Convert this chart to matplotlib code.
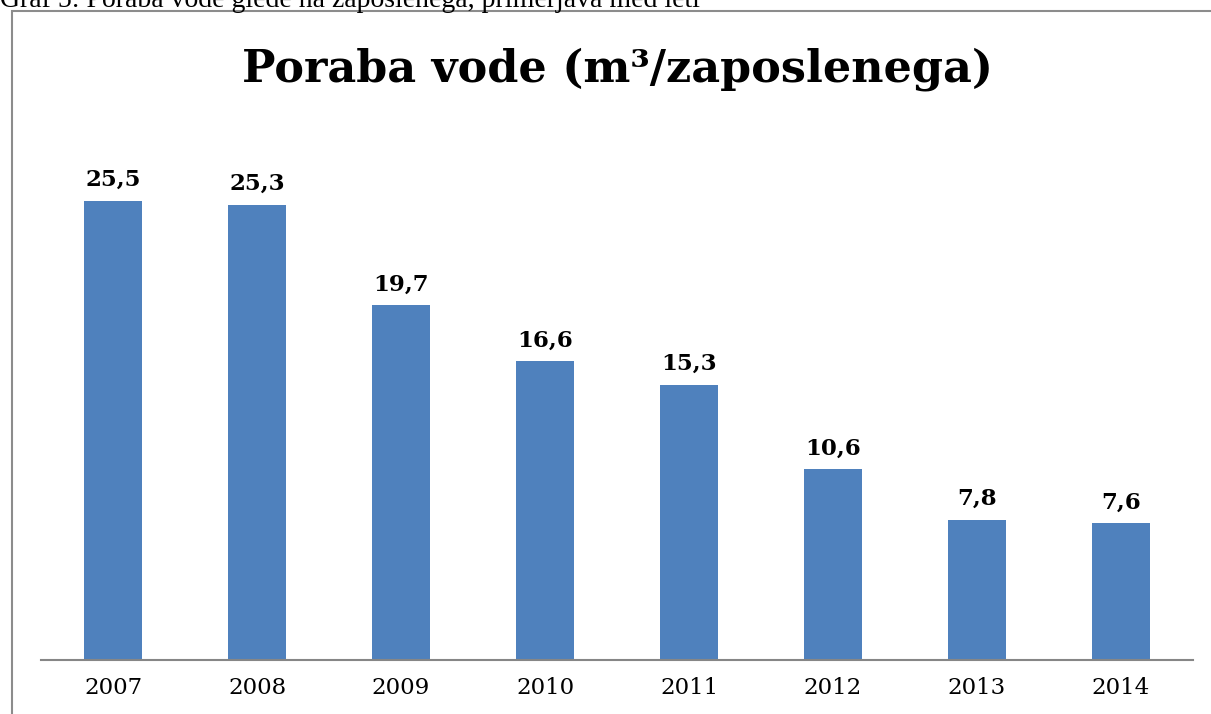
import matplotlib
matplotlib.use('Agg')
import matplotlib.pyplot as plt
from matplotlib.patches import Rectangle

# data
years = ['2007', '2008', '2009', '2010', '2011', '2012', '2013', '2014']
poraba = [25.5, 25.3, 19.7, 16.6, 15.3, 10.6, 7.8, 7.6]
labels = ['25,5', '25,3', '19,7', '16,6', '15,3', '10,6', '7,8', '7,6']

W, H = 1211, 714
fig = plt.figure(figsize=(W / 100, H / 100), dpi=100)

# caption above the chart (cut off at the top in the original)
fig.text(0 / W, 1 - 7 / H, 'Graf 5: Poraba vode glede na zaposlenega, primerjava med leti',
         fontsize=20, family='Liberation Serif', va='baseline', ha='left')

# chart frame
fig.patches.append(Rectangle((12 / W, -0.1), 1.2, 1 - 11 / H + 0.1,
                             transform=fig.transFigure, fill=False,
                             edgecolor='#8c8c8c', linewidth=1.5))

# plot area: baseline at y=660px, 18 px per unit
ax = fig.add_axes([41 / W, 1 - 660 / H, 1152 / W, 540 / H])
x = range(len(years))
bars = ax.bar(x, poraba, width=0.4, color='#4F81BD')
ax.set_xlim(-0.5, len(years) - 0.5)
ax.set_ylim(0, 30)

for i, v in enumerate(poraba):
    ax.text(i, v + 0.55, labels[i], ha='center', va='bottom',
            fontsize=16.5, fontweight='bold', family='DejaVu Serif')

ax.set_xticks(list(x))
ax.set_xticklabels(years, fontsize=16.5, family='DejaVu Serif')
ax.tick_params(axis='x', length=0, pad=12)
ax.set_yticks([])
for s in ['top', 'right', 'left']:
    ax.spines[s].set_visible(False)
ax.spines['bottom'].set_color('#868686')
ax.spines['bottom'].set_linewidth(1.5)

fig.text(617 / W, 1 - 69 / H, 'Poraba vode (m³/zaposlenega)', ha='center', va='center',
         fontsize=32, fontweight='bold', family='DejaVu Serif')

fig.savefig('out.png', dpi=100)
